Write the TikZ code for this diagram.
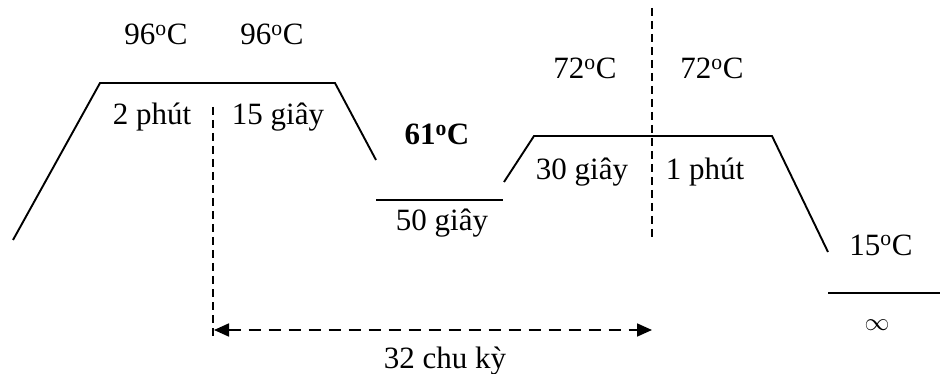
\documentclass[tikz,border=0pt]{standalone}
\usepackage{fontspec}
\setmainfont{Liberation Serif}
\usetikzlibrary{arrows.meta}
\newcommand{\degC}{\textsuperscript{o}C}
\begin{document}
\begin{tikzpicture}[x=1pt,y=-1pt,
  seg/.style={line width=1.9pt},
  dline/.style={line width=1.6pt, dash pattern=on 8pt off 5pt},
  lbl/.style={anchor=base, inner sep=0pt, font=\fontsize{31}{36}\selectfont}]
\useasboundingbox (0,0) rectangle (940,374);
% profile points
\coordinate (p0) at (13,240);
\coordinate (p1) at (100,83);
\coordinate (p2) at (335,83);
\coordinate (p3) at (376,160);
\coordinate (q0) at (376,200);
\coordinate (q1) at (503,200);
\coordinate (r0) at (504,182);
\coordinate (r1) at (534,136);
\coordinate (r2) at (772,136);
\coordinate (r3) at (828,252);
\coordinate (s0) at (828,293);
\coordinate (s1) at (940,293);
\draw[seg] (p0) -- (p1) -- (p2) -- (p3);
\draw[seg] (q0) -- (q1);
\draw[seg] (r0) -- (r1) -- (r2) -- (r3);
\draw[seg] (s0) -- (s1);
% dashed verticals
\coordinate (v1t) at (213,107);
\coordinate (v1b) at (213,337);
\coordinate (v2t) at (652,8);
\coordinate (v2b) at (652,237);
\draw[dline] (v1t) -- (v1b);
\draw[dline] (v2t) -- (v2b);
% cycle arrow
\coordinate (a0) at (214,330);
\coordinate (a1) at (652,330);
\draw[line width=1.8pt, dash pattern=on 12pt off 8pt, {Triangle[length=15pt,width=13pt]}-{Triangle[length=15pt,width=13pt]}] (a0) -- (a1);
% labels
\node[lbl] (t1) at (156,45) {96\degC};
\node[lbl] (t2) at (272,45) {96\degC};
\node[lbl] (d1) at (152,125) {2 phút};
\node[lbl] (d2) at (278,125) {15 giây};
\node[lbl] (t3) at (437,145) {\bfseries 61\degC};
\node[lbl] (d3) at (442,231) {50 giây};
\node[lbl] (t4) at (585,79) {72\degC};
\node[lbl] (t5) at (712,79) {72\degC};
\node[lbl] (d4) at (582,180) {30 giây};
\node[lbl] (d5) at (705,180) {1 phút};
\node[lbl] (t6) at (881,255) {15\degC};
\node[inner sep=0pt, font=\fontsize{31}{36}\selectfont] (d6) at (877,325) {$\infty$};
\node[lbl] (cyc) at (445,368) {32 chu kỳ};
\end{tikzpicture}
\end{document}
